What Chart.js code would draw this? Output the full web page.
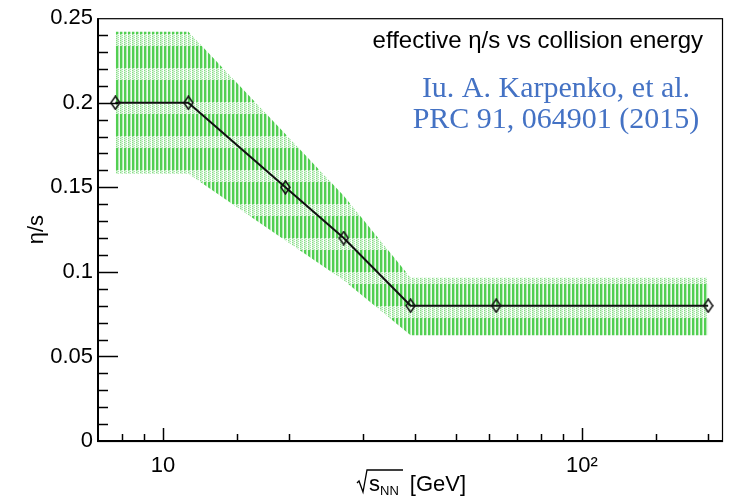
<!DOCTYPE html>
<html>
<head>
<meta charset="utf-8">
<title>effective eta/s vs collision energy</title>
<script src="https://cdn.jsdelivr.net/npm/chart.js@4.4.1/dist/chart.umd.min.js"></script>
<style>
  html, body { margin: 0; padding: 0; background: #ffffff; }
  #chartBox { width: 731px; height: 501px; }
</style>
</head>
<body>
<div id="chartBox"><canvas id="etaChart" width="731" height="501"></canvas></div>
<script>
// --- data ---
const energies = [7.7, 11.5, 19.6, 27, 39, 62.4, 200];        // sqrt(s_NN) in GeV
const etaOverS = [0.2, 0.2, 0.15, 0.12, 0.08, 0.08, 0.08];     // effective eta/s
const bandUpper = [0.242, 0.242, 0.1815, 0.145, 0.0965, 0.0965, 0.0965];
const bandLower = [0.158, 0.158, 0.1185, 0.095, 0.0625, 0.0625, 0.0625];
const yMajorLabels = ['0', '0.05', '0.1', '0.15', '0.2', '0.25'];
const xMajorLabels = { 10: '10', 100: '10\u00B2' };

const FONT_SANS = '"Liberation Sans", Arial, sans-serif';
const FONT_SERIF = '"Liberation Serif", "Times New Roman", serif';

// hatched green fill, roughly like the ROOT fill style of the band
function makeBandPattern() {
    const c = document.createElement('canvas');
    c.width = 4; c.height = 34;
    const g = c.getContext('2d');
    g.fillStyle = '#ffffff';
    g.fillRect(0, 0, 4, 34);
    for (let y = 0; y < 34; y++) {
        if (y < 12) {
            // light dotted stripe
            g.fillStyle = (y % 2 === 0) ? '#86dc86' : '#d4f2d4';
            g.fillRect(0, y, 1, 1);
            g.fillStyle = '#c6f0c6';
            g.fillRect(1, y, 1, 1);
            g.fillStyle = (y % 2 === 1) ? '#a6e6a6' : '#f2fbf2';
            g.fillRect(2, y, 1, 1);
        } else {
            // solid vertical lines
            g.fillStyle = '#52cf52';
            g.fillRect(0, y, 2, 1);
            g.fillStyle = '#b4eab4';
            g.fillRect(2, y, 1, 1);
            g.fillStyle = '#eefaee';
            g.fillRect(3, y, 1, 1);
        }
    }
    return g.createPattern(c, 'repeat');
}

// open diamond marker (taller than wide)
function makeDiamond() {
    const c = document.createElement('canvas');
    c.width = 11; c.height = 15;
    const g = c.getContext('2d');
    g.strokeStyle = '#111111';
    g.lineWidth = 1.5;
    g.beginPath();
    g.moveTo(5.5, 1); g.lineTo(10, 7.5); g.lineTo(5.5, 14); g.lineTo(1, 7.5);
    g.closePath();
    g.stroke();
    return c;
}

// --- frame, inward ticks and free text (ROOT style) ---
const rootFramePlugin = {
    id: 'rootFrame',
    afterDraw(chart) {
        const ctx = chart.ctx;
        const a = chart.chartArea;
        const xs = chart.scales.x;
        const ys = chart.scales.y;
        ctx.save();

        // ticks on y axis (major 0.05, minor 0.01)
        ctx.strokeStyle = '#000000';
        ctx.lineWidth = 1.5;
        ys.ticks.forEach(t => {
            const k = Math.round(t.value * 100);
            if (k <= 0 || k >= 25) return;
            const py = Math.round(ys.getPixelForValue(t.value)) + 0.5;
            const len = (k % 5 === 0) ? 20 : 10;
            ctx.beginPath();
            ctx.moveTo(a.left, py);
            ctx.lineTo(a.left + len, py);
            ctx.stroke();
        });

        // ticks on x axis (major at decades)
        xs.ticks.forEach(t => {
            const v = t.value;
            if (v <= xs.min * 1.001 || v >= xs.max * 0.999) return;
            const px = Math.round(xs.getPixelForValue(v)) + 0.5;
            const lg = Math.log10(v);
            const len = Math.abs(lg - Math.round(lg)) < 1e-6 ? 13 : 7;
            ctx.beginPath();
            ctx.moveTo(px, a.bottom);
            ctx.lineTo(px, a.bottom - len);
            ctx.stroke();
        });

        // frame
        ctx.lineWidth = 1.2;
        ctx.strokeRect(a.left, a.top + 0.5, a.right - a.left - 0.5, a.bottom - a.top);
        ctx.lineWidth = 2;
        ctx.beginPath();
        ctx.moveTo(a.left, a.top);
        ctx.lineTo(a.left, a.bottom);
        ctx.lineTo(a.right, a.bottom);
        ctx.stroke();

        // header text
        ctx.fillStyle = '#000000';
        ctx.font = '24px ' + FONT_SANS;
        ctx.textAlign = 'right';
        ctx.textBaseline = 'alphabetic';
        ctx.fillText('effective \u03B7/s vs collision energy', 703, 48);

        ctx.fillStyle = '#4472c4';
        ctx.font = '30px ' + FONT_SERIF;
        ctx.textAlign = 'center';
        ctx.fillText('Iu. A. Karpenko, et al.', 556, 97);
        ctx.fillText('PRC 91, 064901 (2015)', 556, 128);

        // y axis title
        ctx.fillStyle = '#000000';
        ctx.font = '22px ' + FONT_SANS;
        ctx.save();
        ctx.translate(37, (a.top + a.bottom) / 2);
        ctx.rotate(-Math.PI / 2);
        ctx.textAlign = 'center';
        ctx.textBaseline = 'middle';
        ctx.fillText('\u03B7/s', 0, 0);
        ctx.restore();

        // x axis title: sqrt(s_NN) [GeV]
        const base = 491;
        let x = 357;
        ctx.textAlign = 'left';
        ctx.textBaseline = 'alphabetic';
        // radical sign
        ctx.lineWidth = 1.3;
        ctx.beginPath();
        ctx.moveTo(x, base - 8);
        ctx.lineTo(x + 2, base - 10);
        ctx.lineTo(x + 6, base + 1);
        ctx.lineTo(x + 10, base - 21);
        ctx.lineTo(x + 46, base - 21);
        ctx.stroke();
        x += 12;
        ctx.font = '22px ' + FONT_SANS;
        ctx.fillText('s', x, base);
        x += ctx.measureText('s').width;
        ctx.font = '13px ' + FONT_SANS;
        ctx.fillText('NN', x, base + 4);
        x += ctx.measureText('NN').width + 11;
        ctx.font = '22px ' + FONT_SANS;
        ctx.fillText('[GeV]', x, base);

        ctx.restore();
    }
};

const bandPattern = makeBandPattern();
const diamond = makeDiamond();

const toPoints = ys => energies.map((e, i) => ({ x: e, y: ys[i] }));

const chartConfig = {
    type: 'line',
    data: {
        datasets: [
            {
                label: 'band upper',
                data: toPoints(bandUpper),
                borderWidth: 0,
                borderColor: 'rgba(0,0,0,0)',
                pointRadius: 0,
                fill: '+1',
                backgroundColor: bandPattern,
                order: 2
            },
            {
                label: 'band lower',
                data: toPoints(bandLower),
                borderWidth: 0,
                borderColor: 'rgba(0,0,0,0)',
                pointRadius: 0,
                fill: false,
                order: 2
            },
            {
                label: 'eta/s',
                data: toPoints(etaOverS),
                borderColor: '#111111',
                borderWidth: 2,
                pointStyle: diamond,
                pointRadius: 6,
                fill: false,
                order: 0
            }
        ]
    },
    options: {
        responsive: false,
        animation: false,
        events: [],
        layout: { padding: { left: 0, top: 16, right: 5, bottom: 0 } },
        plugins: {
            legend: { display: false },
            title: { display: false },
            tooltip: { enabled: false }
        },
        scales: {
            x: {
                type: 'logarithmic',
                min: 7,
                max: 217,
                grid: { display: false, drawTicks: false },
                border: { display: false },
                ticks: {
                    autoSkip: false,
                    maxRotation: 0,
                    padding: 12,
                    color: '#000000',
                    font: { family: FONT_SANS, size: 22 },
                    callback: v => xMajorLabels[Math.round(v)] && Math.abs(v - Math.round(v)) < 1e-6 ? xMajorLabels[Math.round(v)] : ''
                },
                // no spare room for edge labels, the frame goes right to the layout padding
                afterFit: s => { s.height = 60; s.paddingLeft = 0; s.paddingRight = 0; }
            },
            y: {
                min: 0,
                max: 0.25,
                grid: { display: false, drawTicks: false },
                border: { display: false },
                ticks: {
                    stepSize: 0.01,
                    autoSkip: false,
                    padding: 5,
                    color: '#000000',
                    font: { family: FONT_SANS, size: 22 },
                    callback: v => {
                        const k = Math.round(v * 100);
                        return k % 5 === 0 ? yMajorLabels[k / 5] : '';
                    }
                },
                afterFit: s => { s.width = 98; }
            }
        }
    },
    plugins: [rootFramePlugin]
};

const etaChart = new Chart(document.getElementById('etaChart').getContext('2d'), chartConfig);
</script>
</body>
</html>
